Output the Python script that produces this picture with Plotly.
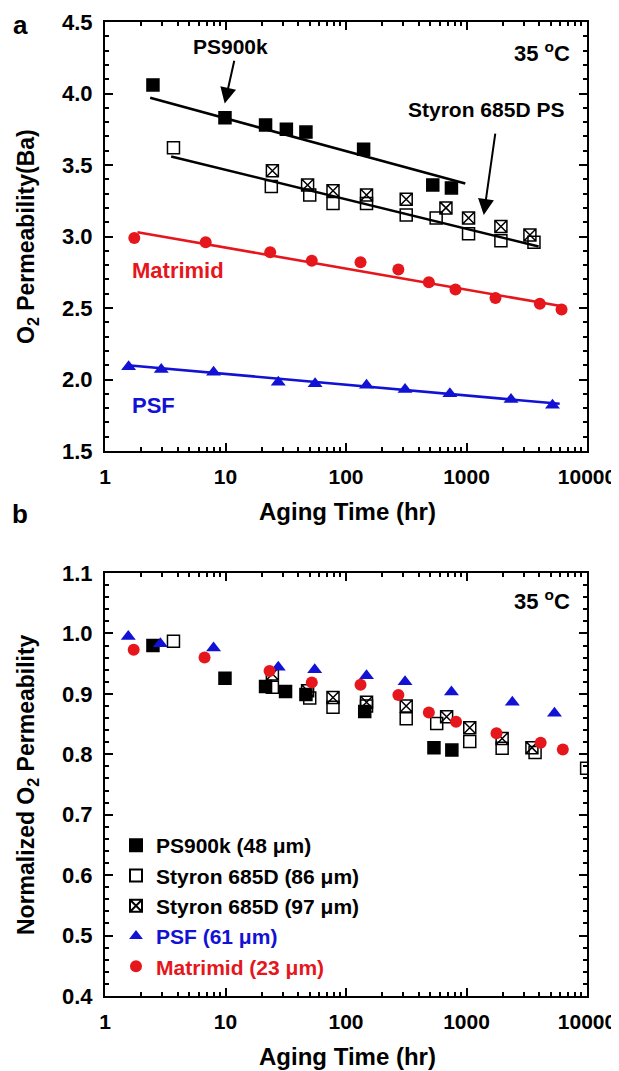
import math
import plotly.graph_objects as go

# ---------------- data: panel a (O2 permeability, Barrer) ----------------
ps900k_t = [2.5, 9.9, 21.5, 32, 46.5, 140, 525, 750]
ps900k_p = [4.06, 3.83, 3.78, 3.75, 3.73, 3.61, 3.36, 3.34]

styron86_t = [3.7, 24, 50, 78, 148, 316, 560, 1040, 1930, 3630]
styron86_p = [3.62, 3.35, 3.29, 3.23, 3.23, 3.15, 3.13, 3.02, 2.97, 2.96]

styron97_t = [24.5, 48, 78, 148, 316, 675, 1040, 1930, 3360]
styron97_p = [3.46, 3.36, 3.32, 3.29, 3.26, 3.20, 3.13, 3.07, 3.01]

matrimid_t = [1.75, 6.85, 23.5, 52, 132, 272, 487, 810, 1740, 4060, 6150]
matrimid_p = [2.99, 2.96, 2.89, 2.83, 2.82, 2.77, 2.68, 2.63, 2.57, 2.53, 2.49]

psf_t = [1.57, 2.93, 7.96, 27.4, 55.4, 148, 309, 728, 2340, 5170]
psf_p = [2.09, 2.07, 2.05, 1.98, 1.97, 1.96, 1.93, 1.90, 1.86, 1.82]

# fitted lines (end points)
ps900k_fit_t = [2.37, 977]
ps900k_fit_p = [3.97, 3.37]
styron_fit_t = [3.54, 3970]
styron_fit_p = [3.56, 2.93]
matrimid_fit_t = [1.86, 6400]
matrimid_fit_p = [3.03, 2.51]
psf_fit_t = [1.54, 5930]
psf_fit_p = [2.10, 1.83]

# ---------------- data: panel b (normalized permeability) ----------------
n_ps900k_t = [2.5, 9.9, 21.5, 31.5, 46.5, 143, 537, 756]
n_ps900k = [0.980, 0.926, 0.912, 0.904, 0.899, 0.871, 0.811, 0.807]

n_styron86_t = [3.7, 24.5, 50, 78, 148, 316, 566, 1064, 1976, 3707, 9930]
n_styron86 = [0.987, 0.911, 0.893, 0.878, 0.880, 0.859, 0.851, 0.821, 0.810, 0.803, 0.777]

n_styron97_t = [24.5, 48, 78, 148, 316, 684, 1064, 1976, 3490]
n_styron97 = [0.933, 0.905, 0.894, 0.886, 0.880, 0.862, 0.844, 0.826, 0.811]

n_psf_t = [1.56, 2.88, 7.96, 27.4, 55, 148, 309, 750, 2400, 5370]
n_psf = [0.995, 0.983, 0.976, 0.944, 0.940, 0.930, 0.920, 0.903, 0.886, 0.868]

n_matrimid_t = [1.73, 6.7, 23.2, 52, 132, 272, 487, 819, 1774, 4124, 6300]
n_matrimid = [0.973, 0.960, 0.938, 0.919, 0.915, 0.898, 0.869, 0.854, 0.835, 0.819, 0.808]

x_tick_vals = [1, 10, 100, 1000, 10000]
x_tick_text = ["1", "10", "100", "1000", "10000"]
y1_tick_vals = [1.5, 2.0, 2.5, 3.0, 3.5, 4.0, 4.5]
y2_tick_vals = [0.4, 0.5, 0.6, 0.7, 0.8, 0.9, 1.0, 1.1]

RED = "#e5161c"
BLUE = "#1212d4"
BLACK = "#000000"
FONT = "Liberation Sans, Arial, Helvetica, sans-serif"

# page body has an 8px default margin: compensate
OFF = 8
W, H = 619 - OFF, 1071 - OFF


def px(x):
    return (x - OFF) / W


def py(y):
    return 1 - (y - OFF) / H


fig = go.Figure()


def fitline(t, p, color, xa, ya):
    fig.add_trace(go.Scatter(x=t, y=p, mode="lines", line=dict(color=color, width=2.6),
                             showlegend=False, xaxis=xa, yaxis=ya, hoverinfo="skip"))


def pts(t, p, symbol, color, size, xa, ya, name=None, legend=False, lw=1.5):
    fig.add_trace(go.Scatter(
        x=t, y=p, mode="markers", name=name, showlegend=legend,
        marker=dict(symbol=symbol, size=size, color=color,
                    line=dict(color=color, width=lw)),
        xaxis=xa, yaxis=ya))


# ---- panel a ----
fitline(ps900k_fit_t, ps900k_fit_p, BLACK, "x", "y")
fitline(styron_fit_t, styron_fit_p, BLACK, "x", "y")
fitline(matrimid_fit_t, matrimid_fit_p, RED, "x", "y")
fitline(psf_fit_t, psf_fit_p, BLUE, "x", "y")

pts(ps900k_t, ps900k_p, "square", BLACK, 12, "x", "y")
pts(styron86_t, styron86_p, "square-open", BLACK, 12, "x", "y")
pts(styron97_t, styron97_p, "square-x-open", BLACK, 12, "x", "y")
pts(matrimid_t, matrimid_p, "circle", RED, 12, "x", "y", lw=0)
pts(psf_t, psf_p, "triangle-up", BLUE, 13, "x", "y", lw=0)

# ---- panel b ----
pts(n_ps900k_t, n_ps900k, "square", BLACK, 12, "x2", "y2", "PS900k (48 μm)", True)
pts(n_styron86_t, n_styron86, "square-open", BLACK, 12, "x2", "y2", "Styron 685D (86 μm)", True)
pts(n_styron97_t, n_styron97, "square-x-open", BLACK, 12, "x2", "y2", "Styron 685D (97 μm)", True)
pts(n_psf_t, n_psf, "triangle-up", BLUE, 13, "x2", "y2",
    "<span style='color:%s'>PSF (61 μm)</span>" % BLUE, True, lw=0)
pts(n_matrimid_t, n_matrimid, "circle", RED, 12, "x2", "y2",
    "<span style='color:%s'>Matrimid (23 μm)</span>" % RED, True, lw=0)

xdom = [px(105), px(587)]
y1dom = [py(451), py(22)]
y2dom = [py(996), py(573)]

minor_x = [m * 10 ** e for e in range(4) for m in range(2, 10)]


def xaxis(anchor):
    return dict(domain=xdom, anchor=anchor, type="log", range=[0, 4],
                tickvals=x_tick_vals, ticktext=x_tick_text,
                ticks="inside", ticklen=8, tickwidth=2, tickcolor=BLACK,
                minor=dict(tickvals=minor_x, ticks="inside", ticklen=4, tickwidth=1.5, tickcolor=BLACK),
                showline=True, linewidth=2, linecolor=BLACK, mirror="allticks",
                showgrid=False, zeroline=False, automargin=False,
                ticklabelstandoff=6, ticklabeloverflow="allow",
                tickfont=dict(family=FONT, size=21, color=BLACK, weight="bold"))


def yaxis(anchor, dom, rng, vals, minor_dtick):
    return dict(domain=dom, anchor=anchor, range=rng, tickvals=vals,
                ticktext=["%.1f" % v for v in vals],
                ticks="inside", ticklen=8, tickwidth=2, tickcolor=BLACK,
                minor=dict(dtick=minor_dtick, tick0=rng[0], ticks="inside", ticklen=4, tickwidth=1.5,
                           tickcolor=BLACK),
                showline=True, linewidth=2, linecolor=BLACK, mirror="allticks",
                showgrid=False, zeroline=False, automargin=False,
                ticklabelstandoff=6, ticklabeloverflow="allow",
                tickfont=dict(family=FONT, size=22, color=BLACK, weight="bold"))


fig.update_layout(
    width=W, height=H,
    margin=dict(l=0, r=0, t=0, b=0),
    paper_bgcolor="white", plot_bgcolor="white",
    xaxis=xaxis("y"),
    yaxis=yaxis("x", y1dom, [1.5, 4.5], y1_tick_vals, 0.1),
    xaxis2=xaxis("y2"),
    yaxis2=yaxis("x2", y2dom, [0.4, 1.1], y2_tick_vals, 0.02),
    legend=dict(x=px(116), y=py(825), xanchor="left", yanchor="top",
                bgcolor="rgba(0,0,0,0)", tracegroupgap=0, itemsizing="constant",
                font=dict(family=FONT, size=21, color=BLACK, weight="bold")),
    showlegend=True,
    font=dict(family=FONT, color=BLACK),
)


def txt(x, y, s, size=21, color=BLACK, xref="paper", yref="paper", xanchor="center",
        yanchor="middle", angle=0):
    fig.add_annotation(x=x, y=y, text=s, xref=xref, yref=yref, showarrow=False,
                       xanchor=xanchor, yanchor=yanchor, textangle=angle,
                       font=dict(family=FONT, size=size, color=color, weight="bold"))


# panel letters
txt(px(20), py(8), "a", size=26, yanchor="top")
txt(px(20), py(514), "b", size=26)

# axis titles
txt(px(347), py(511), "Aging Time (hr)", size=24)
txt(px(347), py(1056), "Aging Time (hr)", size=24)
txt(px(27), py(237), "O<sub>2</sub> Permeability(Ba)", size=23, angle=-90)
txt(px(27), py(785), "Normalized O<sub>2</sub> Permeability", size=23, angle=-90)

# temperature labels
txt(px(572), py(52), "35 <sup>o</sup>C", size=22, xanchor="right")
txt(px(572), py(600), "35 <sup>o</sup>C", size=22, xanchor="right")

# series labels panel a
txt(math.log10(1.6), 2.76, "Matrimid", size=22, color=RED, xref="x", yref="y", xanchor="left")
txt(math.log10(1.6), 1.82, "PSF", size=22, color=BLUE, xref="x", yref="y", xanchor="left")
txt(math.log10(11), 4.33, "PS900k", size=21, xref="x", yref="y")
txt(math.log10(1460), 3.89, "Styron 685D PS", size=21, xref="x", yref="y")

# arrows
for (tx, ty, hx, hy) in [(11.9, 4.24, 9.85, 3.93), (1740, 3.73, 1390, 3.15)]:
    fig.add_annotation(x=math.log10(hx), y=hy, ax=math.log10(tx), ay=ty,
                       xref="x", yref="y", axref="x", ayref="y", text="",
                       showarrow=True, arrowhead=2, arrowsize=1.6, arrowwidth=2,
                       arrowcolor=BLACK)

fig.write_html("out.html")
